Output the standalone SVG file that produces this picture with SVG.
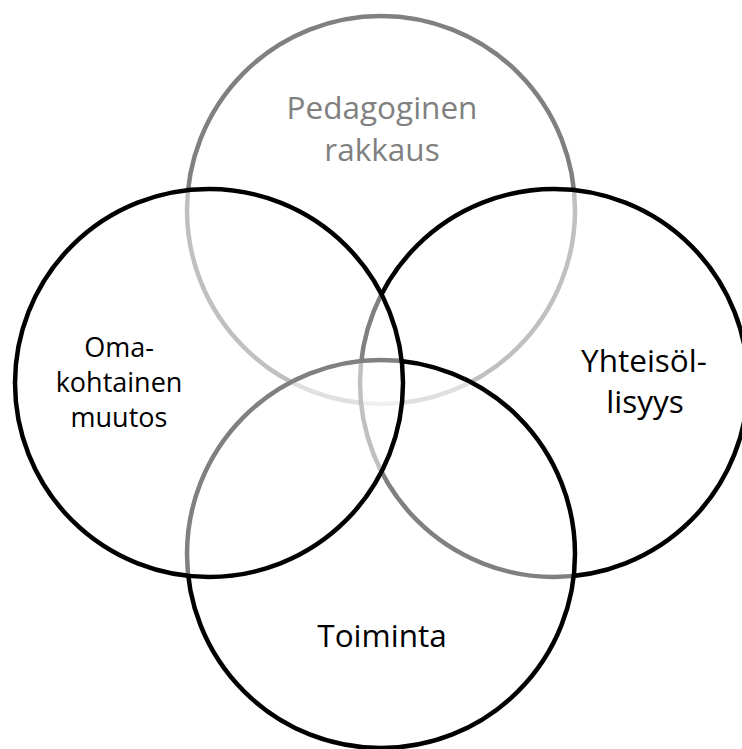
<svg xmlns="http://www.w3.org/2000/svg" width="742" height="749" viewBox="0 0 742 749">
  <style>
    .ring { fill: #ffffff; fill-opacity: 0.5; stroke: #000000; stroke-width: 4.5; }
    .ring.soft { stroke: #808080; }
    .label { font-family: "Open Sans", "Noto Sans", "Liberation Sans", sans-serif; font-size: 31.5px; fill: #000000; text-anchor: middle; }
    .label.soft { fill: #808080; }
    .label.small { font-size: 27px; }
  </style>
  <rect width="742" height="749" fill="#ffffff"/>

  <!-- Four overlapping rings; each half-transparent white fill fades the outlines drawn before it -->
  <g id="pedagoginen-rakkaus">
    <circle class="ring soft" cx="381" cy="210" r="194"/>
    <text class="label soft" x="382" y="119">Pedagoginen</text>
    <text class="label soft" x="382" y="161">rakkaus</text>
  </g>

  <g id="yhteisollisyys">
    <circle class="ring" cx="554" cy="383" r="194"/>
    <text class="label" x="644" y="372">Yhteisöl-</text>
    <text class="label" x="645" y="413">lisyys</text>
  </g>

  <g id="toiminta">
    <circle class="ring" cx="381" cy="554" r="194"/>
    <text class="label" x="382" y="647">Toiminta</text>
  </g>

  <g id="omakohtainen-muutos">
    <circle class="ring" cx="209" cy="383" r="194"/>
    <text class="label small" x="119" y="357">Oma-</text>
    <text class="label small" x="119" y="392">kohtainen</text>
    <text class="label small" x="119" y="427">muutos</text>
  </g>
</svg>
